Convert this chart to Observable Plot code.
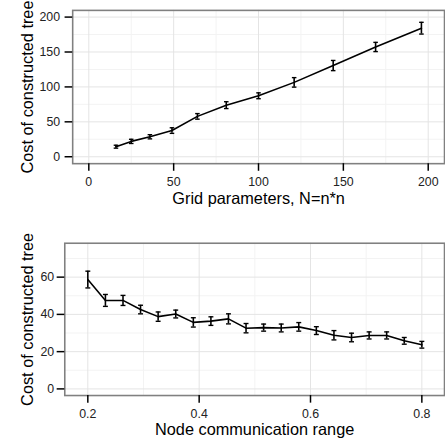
<!DOCTYPE html>
<html>
<head>
<meta charset="utf-8">
<script src="https://cdn.jsdelivr.net/npm/d3@7"></script>
<script src="https://cdn.jsdelivr.net/npm/@observablehq/plot@0.6"></script>
<style>
  html, body { margin: 0; padding: 0; background: #fff; overflow: hidden; width: 445px; height: 444px; }
  #chart > svg { display: block; }
</style>
</head>
<body>
<div id="chart"></div>
<script>
// ---- Panel 1: grid size ----
const gridN     = [16, 25, 36, 49, 64, 81, 100, 121, 144, 169, 196];
const gridCost  = [14.4, 22.0, 28.6, 37.5, 57.8, 73.9, 87.3, 106.5, 130.6, 157.2, 184.1];
const gridErr   = [2.1, 3.0, 3.0, 4.0, 4.0, 4.9, 4.2, 6.8, 7.3, 6.6, 8.4];
const gridXTicks = [0, 50, 100, 150, 200];
const gridXMinor = [25, 75, 125, 175];
const gridYTicks = [0, 50, 100, 150, 200];
const gridYMinor = [25, 75, 125, 175];
const gridXTitle = "Grid parameters, N=n*n";

// ---- Panel 2: communication range ----
const rangeR    = [0.2, 0.2316, 0.2632, 0.2947, 0.3263, 0.3579, 0.3895, 0.4211, 0.4526, 0.4842,
                   0.5158, 0.5474, 0.5789, 0.6105, 0.6421, 0.6737, 0.7053, 0.7368, 0.7684, 0.8];
const rangeCost = [58.7, 47.5, 47.5, 42.6, 38.8, 40.2, 35.7, 36.4, 37.6, 32.6,
                   32.9, 32.7, 33.3, 31.3, 28.8, 27.6, 28.7, 28.7, 25.8, 23.7];
const rangeErr  = [4.5, 3.2, 2.7, 2.3, 2.5, 2.1, 2.5, 2.3, 2.7, 2.5,
                   1.9, 2.1, 2.3, 2.1, 2.5, 2.3, 1.9, 1.9, 1.8, 1.8];
const rangeXTicks = [0.2, 0.4, 0.6, 0.8];
const rangeXMinor = [0.3, 0.5, 0.7];
const rangeYTicks = [0, 20, 40, 60];
const rangeYMinor = [10, 30, 50, 70];
const rangeXTitle = "Node communication range";

const yTitle = "Cost of constructed tree";

const FONT = "'Liberation Sans', Arial, Helvetica, sans-serif";
const hline = { draw(ctx, size) { const r = Math.sqrt(size / Math.PI); ctx.moveTo(-r, 0); ctx.lineTo(r, 0); } };

function panel({xs, ys, es, xDomain, yDomain, xTicks, xMinor, yTicks, yMinor, xTitle,
                marginLeft, marginTop, marginBottom, yTitleDx, xTitleDy, yPad, capR}) {
  const data = xs.map((x, i) => ({x, y: ys[i], lo: ys[i] - es[i], hi: ys[i] + es[i]}));
  return Plot.plot({
    width: 450, height: 222,
    marginLeft, marginRight: 1, marginTop, marginBottom,
    style: {fontFamily: FONT, background: "white", overflow: "visible"},
    x: {domain: xDomain},
    y: {domain: yDomain},
    marks: [
      Plot.gridX(xMinor, {stroke: "#f3f3f3", strokeOpacity: 1, strokeWidth: 1}),
      Plot.gridY(yMinor, {stroke: "#f3f3f3", strokeOpacity: 1, strokeWidth: 1}),
      Plot.gridX(xTicks, {stroke: "#e4e4e4", strokeOpacity: 1, strokeWidth: 1}),
      Plot.gridY(yTicks, {stroke: "#e4e4e4", strokeOpacity: 1, strokeWidth: 1}),
      Plot.frame({stroke: "#808080", strokeWidth: 1.6}),
      Plot.line(data, {x: "x", y: "y", stroke: "black", strokeWidth: 1.6}),
      Plot.ruleX(data, {x: "x", y1: "lo", y2: "hi", stroke: "black", strokeWidth: 1.6}),
      Plot.dot(data, {x: "x", y: "lo", symbol: hline, r: capR, stroke: "black", strokeWidth: 1.4}),
      Plot.dot(data, {x: "x", y: "hi", symbol: hline, r: capR, stroke: "black", strokeWidth: 1.4}),
      Plot.axisX({ticks: xTicks, tickSize: 7.7, tickPadding: 6, fontSize: 12.5, fill: "#222",
                  stroke: "black", strokeWidth: 1.5, label: null, tickFormat: d => String(d)}),
      Plot.axisY({ticks: yTicks, tickSize: 7.7, tickPadding: yPad, fontSize: 12.5, fill: "#222",
                  stroke: "black", strokeWidth: 1.5, label: null, tickFormat: d => String(d)}),
      Plot.text([xTitle], {frameAnchor: "bottom", lineAnchor: "bottom", textAnchor: "middle", dy: xTitleDy,
                  fontSize: 16.5, fill: "black"}),
      Plot.text([yTitle], {frameAnchor: "left", lineAnchor: "bottom", textAnchor: "middle", rotate: -90,
                  dx: yTitleDx, fontSize: 16.5, fill: "black"})
    ]
  });
}

const root = document.getElementById("chart");
root.appendChild(panel({
  xs: gridN, ys: gridCost, es: gridErr,
  xDomain: [-9.5, 209.6], yDomain: [-9.9, 209.6],
  xTicks: gridXTicks, xMinor: gridXMinor, yTicks: gridYTicks, yMinor: gridYMinor,
  xTitle: gridXTitle, marginLeft: 73, marginTop: 10, marginBottom: 57,
  yTitleDx: -40, xTitleDy: 41, yPad: 5, capR: 2.3
}));
root.appendChild(panel({
  xs: rangeR, ys: rangeCost, es: rangeErr,
  xDomain: [0.1586, 0.8407], yDomain: [-3.56, 78.2],
  xTicks: rangeXTicks, xMinor: rangeXMinor, yTicks: rangeYTicks, yMinor: rangeYMinor,
  xTitle: rangeXTitle, marginLeft: 65, marginTop: 23, marginBottom: 45,
  yTitleDx: -32, xTitleDy: 40, yPad: 3, capR: 2.5
}));
</script>
</body>
</html>
